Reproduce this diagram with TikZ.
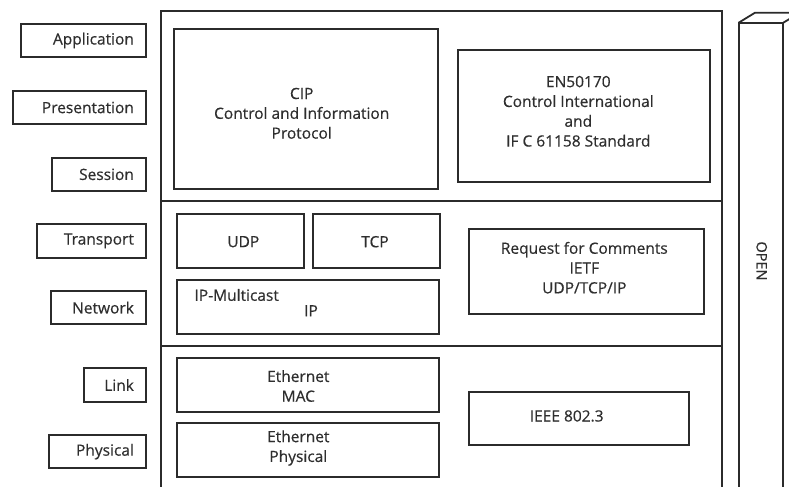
\documentclass[tikz,border=0pt]{standalone}
\usepackage{fontspec}
\setmainfont{Open Sans}
\newfontfamily\lblfont{Open Sans}[FakeBold=0.5]
\usetikzlibrary{fit}
\definecolor{ln}{HTML}{2B2B2B}
\definecolor{tx}{HTML}{2E2E2E}
\begin{document}
\begin{tikzpicture}[x=1bp,y=-1bp,
  box/.style={draw=ln,line width=1.8bp,inner sep=0pt,rectangle},
  lbl/.style={text=tx,font=\lblfont\fontsize{15.5bp}{19.8bp}\selectfont,inner sep=0pt,align=center},
  frame/.style={draw=ln,line width=1.8bp}]
\useasboundingbox (0,0) rectangle (789,487);
\clip (0,0) rectangle (789,487);
% main frame
\coordinate (fbl) at (161.3,490);
\coordinate (ftl) at (161.3,10.7);
\coordinate (ftr) at (722.3,10.7);
\coordinate (fbr) at (722.3,490);
\draw[frame] (fbl) -- (ftl) -- (ftr) -- (fbr);
\coordinate (d1l) at (161.3,201); \coordinate (d1r) at (722.3,201);
\coordinate (d2l) at (161.3,346); \coordinate (d2r) at (722.3,346);
\draw[frame] (d1l) -- (d1r);
\draw[frame] (d2l) -- (d2r);
% OSI layer labels
\node[box,fit={(21,24) (145.7,57)}] (app) {};
\node[box,fit={(12.7,90.7) (145.7,124.3)}] (pres) {};
\node[box,fit={(52,157.7) (145.7,191)}] (sess) {};
\node[box,fit={(36.7,224) (145.7,257.7)}] (trans) {};
\node[box,fit={(50.7,291) (145.7,324.3)}] (net) {};
\node[box,fit={(84,368.3) (145.7,401.7)}] (link) {};
\node[box,fit={(49,435) (145.7,468.3)}] (phys) {};
\node[lbl,anchor=east] (tapp) at ([xshift=-12.5bp]app.east) {Application};
\node[lbl,anchor=east] (tpres) at ([xshift=-12.5bp]pres.east) {Presentation};
\node[lbl,anchor=east] (tsess) at ([xshift=-12.5bp]sess.east) {Session};
\node[lbl,anchor=east] (ttrans) at ([xshift=-12.5bp]trans.east) {Transport};
\node[lbl,anchor=east] (tnet) at ([xshift=-12.5bp]net.east) {Network};
\node[lbl,anchor=east] (tlink) at ([xshift=-12.5bp]link.east) {Link};
\node[lbl,anchor=east] (tphys) at ([xshift=-12.5bp]phys.east) {Physical};
% inner boxes
\node[box,fit={(174,29.3) (437.7,189.3)}] (cip) {};
\node[box,fit={(457.7,50) (710,181.7)}] (en) {};
\node[box,fit={(176.7,214.3) (304,268.3)}] (udp) {};
\node[box,fit={(313,214.3) (440,268.3)}] (tcp) {};
\node[box,fit={(176.7,280) (439.3,334)}] (ip) {};
\node[box,fit={(469.3,229.3) (704,314)}] (rfc) {};
\node[box,fit={(469.3,391.7) (689.3,445)}] (ieee) {};
\node[box,fit={(176.7,358.3) (439.3,412.3)}] (mac) {};
\node[box,fit={(176.7,422.7) (439.3,476.7)}] (ephy) {};
% texts
\node[lbl] (tcip) at (301.7,113.3) {CIP\\Control and Information\\Protocol};
\node[lbl] (ten) at (578.3,111.3) {EN50170\\Control International\\and\\IF C 61158 Standard};
\node[lbl] (tudp) at (243.3,241.7) {UDP};
\node[lbl] (ttcp) at (375,241.7) {TCP};
\node[lbl,anchor=west] (tipm) at (194.3,295) {IP-Multicast};
\node[lbl] (tip) at (311,310.7) {IP};
\node[lbl] (trfc) at (584.3,267.7) {Request for Comments\\IETF\\UDP/TCP/IP};
\node[lbl] (tieee) at (566.7,416) {IEEE 802.3};
\node[lbl] (tmac) at (298.3,386) {Ethernet\\MAC};
\node[lbl] (tephy) at (298.3,448) {Ethernet\\Physical};
% OPEN column (3D bar)
\coordinate (oa) at (738.7,490);
\coordinate (ob) at (738.7,22.7);
\coordinate (oc) at (783.3,22.7);
\coordinate (od) at (783.3,490);
\coordinate (oe) at (755,12.7);
\coordinate (of) at (800,12.7);
\coordinate (og) at (800,490);
\draw[frame,line join=miter] (oa) -- (ob) -- (oc) -- (od);
\draw[frame,line join=miter] (ob) -- (oe) -- (of) -- (oc);
\draw[frame] (of) -- (og);
\node[lbl,rotate=-90,font=\lblfont\fontsize{14.5bp}{16bp}\selectfont] (topen) at (761.7,261) {OPEN};
\end{tikzpicture}
\end{document}
